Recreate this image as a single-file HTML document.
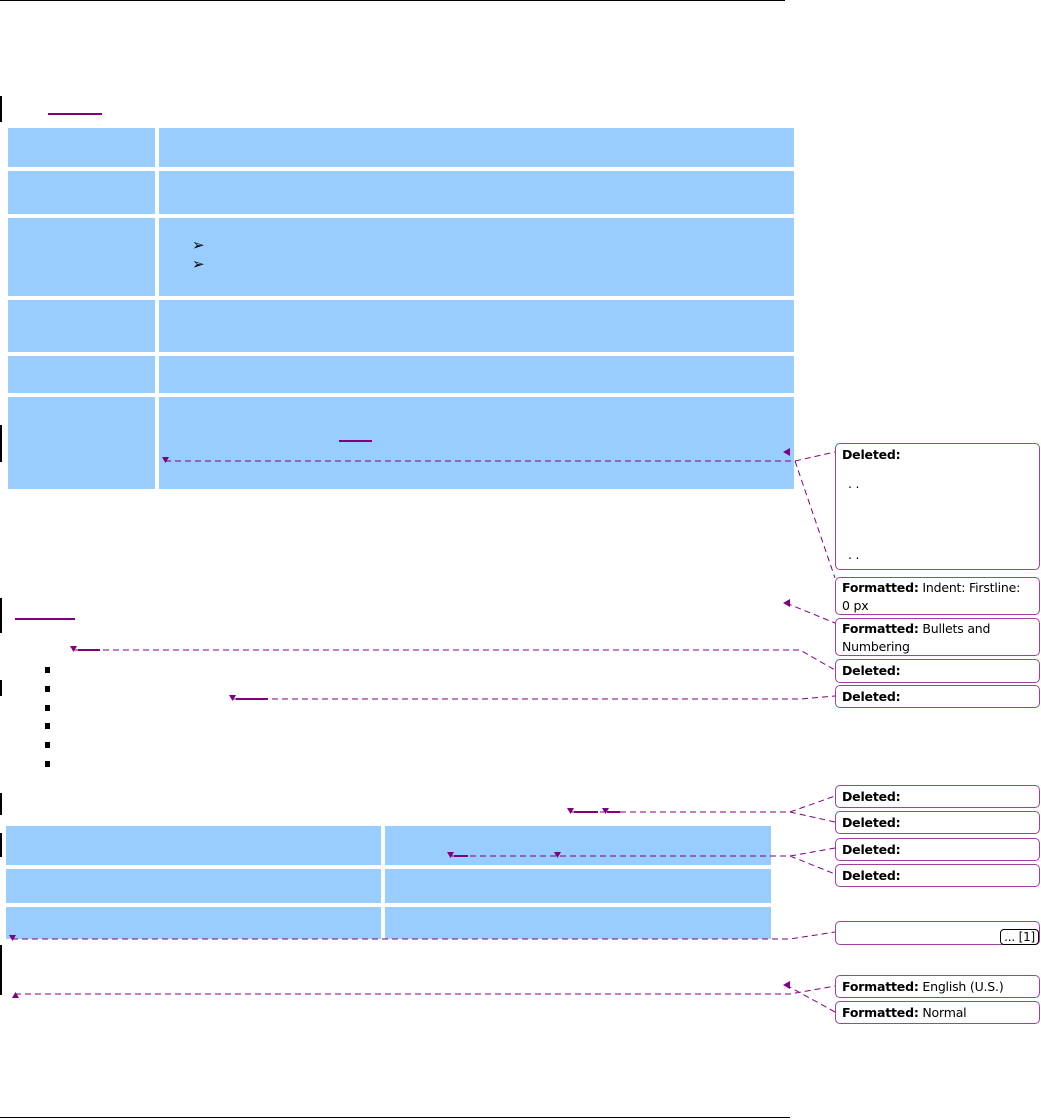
<!DOCTYPE html>
<html><head><meta charset="utf-8"><style>
body{margin:0;width:1041px;height:1120px;position:relative;background:#fff;font-family:"DejaVu Sans","Liberation Sans",sans-serif;overflow:hidden}
.c{position:absolute;background:#99ccff}
.b{position:absolute;background:#000}
.p{position:absolute;background:#800080}
.box{position:absolute;left:835px;width:205px;border:1px solid #a040a0;border-radius:5px;background:#fff;font-size:12.5px;line-height:21px;padding-left:6px;box-sizing:border-box;color:#000;letter-spacing:-0.2px}
.box b{font-weight:bold}
.sq{position:absolute;width:5px;height:6px;background:#000;left:45px}
</style></head><body>
<div class="b" style="left:0;top:0;width:785px;height:1px"></div>
<div class="b" style="left:0;top:1117px;width:790px;height:1px"></div>
<div class="b" style="left:0;top:96px;width:2px;height:26px"></div>
<div class="b" style="left:0;top:425px;width:2px;height:37px"></div>
<div class="b" style="left:0;top:598px;width:2px;height:35px"></div>
<div class="b" style="left:0;top:680px;width:2px;height:16px"></div>
<div class="b" style="left:0;top:793px;width:2px;height:22px"></div>
<div class="b" style="left:0;top:833px;width:2px;height:24px"></div>
<div class="b" style="left:0;top:945px;width:2px;height:50px"></div>

<div class="c" style="left:8px;top:128px;width:147px;height:39px"></div><div class="c" style="left:159px;top:128px;width:635px;height:39px"></div>
<div class="c" style="left:8px;top:171px;width:147px;height:43px"></div><div class="c" style="left:159px;top:171px;width:635px;height:43px"></div>
<div class="c" style="left:8px;top:218px;width:147px;height:78px"></div><div class="c" style="left:159px;top:218px;width:635px;height:78px"></div>
<div class="c" style="left:8px;top:300px;width:147px;height:52px"></div><div class="c" style="left:159px;top:300px;width:635px;height:52px"></div>
<div class="c" style="left:8px;top:356px;width:147px;height:37px"></div><div class="c" style="left:159px;top:356px;width:635px;height:37px"></div>
<div class="c" style="left:8px;top:397px;width:147px;height:92px"></div><div class="c" style="left:159px;top:397px;width:635px;height:92px"></div>
<div style="position:absolute;left:192px;top:236px;font-size:15px;line-height:19px">➢<br>➢</div>

<div class="c" style="left:6px;top:826px;width:375px;height:39px"></div><div class="c" style="left:385px;top:826px;width:386px;height:39px"></div>
<div class="c" style="left:6px;top:869px;width:375px;height:34px"></div><div class="c" style="left:385px;top:869px;width:386px;height:34px"></div>
<div class="c" style="left:6px;top:907px;width:375px;height:32px"></div><div class="c" style="left:385px;top:907px;width:386px;height:32px"></div>

<div class="p" style="left:48px;top:113px;width:54px;height:2px"></div>
<div class="p" style="left:339px;top:440px;width:33px;height:2px"></div>
<div class="p" style="left:15px;top:618px;width:60px;height:2px"></div>
<div class="sq" style="top:667px"></div><div class="sq" style="top:686px"></div><div class="sq" style="top:705px"></div><div class="sq" style="top:723px"></div><div class="sq" style="top:742px"></div><div class="sq" style="top:761px"></div>

<svg width="1041" height="1120" style="position:absolute;left:0;top:0" fill="none" stroke="#800080" stroke-width="1" stroke-dasharray="6,4">
<path d="M165 461H795L835 452M795 461L835 578M786 603L835 623"/>
<path d="M73 650H800L835 670M232 699H800L835 696"/>
<path d="M570 812H790L835 796M790 812L835 822M450 856H790L835 848M790 856L835 874"/>
<path d="M12 939H790L835 932M15 994H790L835 986M786 985L835 1012"/>
<g stroke-dasharray="none" stroke-width="2"><path d="M78 650H100M236 699H268M574 812H598M607 812H620M454 856H468"/></g>
<g fill="#800080" stroke="none">
<path d="M162 457h7l-3.5 6z"/><path d="M70 646h7l-3.5 6z"/><path d="M229 695h7l-3.5 6z"/><path d="M567 808h7l-3.5 6z"/><path d="M602 808h7l-3.5 6z"/><path d="M447 852h7l-3.5 6z"/><path d="M554 852h7l-3.5 6z"/><path d="M9 935h7l-3.5 6z"/><path d="M12 998h7l-3.5-6z"/>
<path d="M783 452l7-4v8z"/><path d="M783 603l7-4v8z"/><path d="M783 985l7-4v8z"/>
</g></svg>

<div class="box" style="top:443px;height:127px"><b>Deleted:</b><div style="margin-top:8px;padding-left:6px">. .</div><div style="margin-top:50px;padding-left:6px">. .</div></div>
<div class="box" style="top:577px;height:38px;line-height:18px;padding-top:1px;padding-right:14px"><b>Formatted:</b> Indent: Firstline: 0 px</div>
<div class="box" style="top:618px;height:38px;line-height:18px;padding-top:1px;padding-right:30px"><b>Formatted:</b> Bullets and Numbering</div>
<div class="box" style="top:659px;height:24px"><b>Deleted:</b></div>
<div class="box" style="top:685px;height:23px"><b>Deleted:</b></div>
<div class="box" style="top:785px;height:23px"><b>Deleted:</b></div>
<div class="box" style="top:811px;height:23px"><b>Deleted:</b></div>
<div class="box" style="top:838px;height:23px"><b>Deleted:</b></div>
<div class="box" style="top:864px;height:23px"><b>Deleted:</b></div>
<div class="box" style="top:921px;height:24px"><span style="position:absolute;right:0;top:7px;border:1px solid #000;border-radius:4px;font-size:12px;line-height:14px;padding:0 3px">... [1]</span></div>
<div class="box" style="top:975px;height:23px"><b>Formatted:</b> English (U.S.)</div>
<div class="box" style="top:1001px;height:23px"><b>Formatted:</b> Normal</div>
</body></html>
